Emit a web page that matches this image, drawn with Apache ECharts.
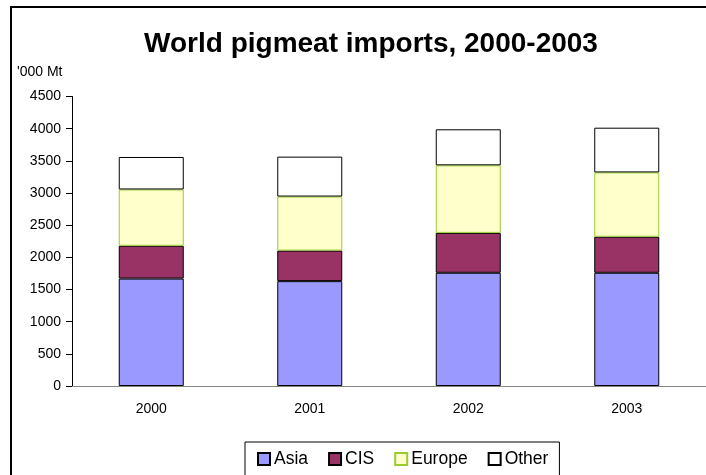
<!DOCTYPE html>
<html>
<head>
<meta charset="utf-8">
<script src="https://cdn.jsdelivr.net/npm/echarts@6/dist/echarts.min.js"></script>
<style>
  html, body { margin: 0; padding: 0; background: #fff; }
  #root { width: 706px; height: 475px; }
</style>
</head>
<body>
<div id="root"></div>
<script>
// values, '000 Mt
const years = ['2000', '2001', '2002', '2003'];
const asia = [1670, 1630, 1760, 1760];
const cis = [510, 475, 620, 560];
const europe = [875, 840, 1050, 1000];
const other = [505, 620, 560, 695];

const font = 'Liberation Sans, Arial, sans-serif';

const myChart = echarts.init(document.getElementById('root'));

function stack(name, data, color, border) {
  return {
    name: name,
    type: 'bar',
    stack: 'total',
    barWidth: 65,
    data: data,
    itemStyle: { color: color, borderColor: border, borderWidth: 1 }
  };
}

const option = {
  backgroundColor: '#ffffff',
  animation: false,
  title: [
    {
      text: 'World pigmeat imports, 2000-2003',
      left: 366,
      top: 25,
      textAlign: 'center',
      textStyle: { fontFamily: font, fontSize: 28, fontWeight: 'bold', color: '#000' }
    },
    {
      text: "'000 Mt",
      left: 12,
      top: 60,
      textStyle: { fontFamily: font, fontSize: 14, fontWeight: 'normal', color: '#000' }
    }
  ],
  graphic: [
    {
      type: 'rect',
      shape: { x: 11, y: 7, width: 760, height: 520 },
      style: { fill: 'none', stroke: '#000', lineWidth: 2 },
      silent: true
    }
  ],
  legend: {
    left: 245,
    top: 442,
    padding: [8, 11, 14, 12],
    itemWidth: 12,
    itemHeight: 12,
    itemGap: 20,
    icon: 'rect',
    borderColor: '#000',
    borderWidth: 1,
    textStyle: { fontFamily: font, fontSize: 17.5, color: '#000', padding: [0, 0, 0, -1] },
    data: ['Asia', 'CIS', 'Europe', 'Other']
  },
  grid: { left: 72, top: 96.5, bottom: 89, width: 636, containLabel: false },
  xAxis: {
    type: 'category',
    data: years,
    axisLine: { lineStyle: { color: '#868686', width: 1 } },
    axisTick: { length: 5, lineStyle: { color: '#000' } },
    axisLabel: { fontFamily: font, fontSize: 14, color: '#000', margin: 16 }
  },
  yAxis: {
    type: 'value',
    min: 0,
    max: 4500,
    interval: 500,
    axisLine: { show: true, lineStyle: { color: '#000', width: 1 } },
    axisTick: { show: true, length: 6, lineStyle: { color: '#000' } },
    axisLabel: {
      fontFamily: font, fontSize: 14, color: '#000', margin: 11,
      formatter: function (v) { return String(v); }
    },
    splitLine: { show: false }
  },
  series: [
    stack('Asia', asia, '#9999ff', '#000'),
    stack('CIS', cis, '#993366', '#000'),
    stack('Europe', europe, '#ffffcc', '#99cc33'),
    stack('Other', other, '#ffffff', '#000')
  ]
};

myChart.setOption(option);
</script>
</body>
</html>
